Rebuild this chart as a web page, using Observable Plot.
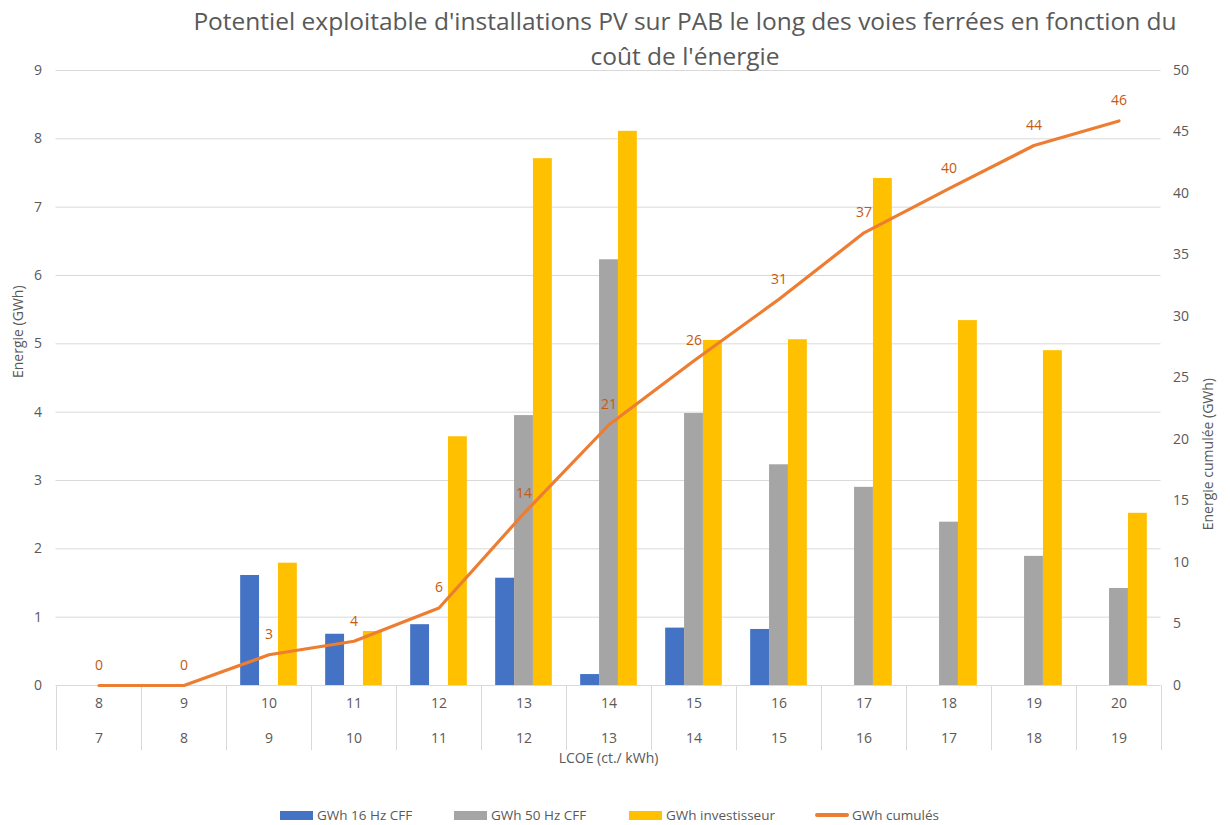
<!DOCTYPE html>
<html>
<head>
<meta charset="utf-8">
<script src="https://cdn.jsdelivr.net/npm/d3@7"></script>
<script src="https://cdn.jsdelivr.net/npm/@observablehq/plot@0.6"></script>
<style>
  html, body { margin: 0; padding: 0; background: #fff; }
  #wrap { position: relative; width: 1230px; height: 825px; overflow: hidden; font-family: "Open Sans", sans-serif; }
  #title { position: absolute; left: 140px; width: 1090px; top: 3px; text-align: center; font-size: 24.5px; line-height: 35px; color: #595959; }
  #chart { position: absolute; left: 0; top: 0; }
  .leg { position: absolute; top: 806px; display: flex; align-items: center; font-size: 13.5px; color: #595959; white-space: nowrap; }
  .sw { width: 33px; height: 9px; margin-right: 4px; }
  .ln { width: 34px; height: 4px; border-radius: 2px; margin-right: 3px; }
</style>
</head>
<body>
<div id="wrap">
  <div id="chart"></div>
  <div id="title">Potentiel exploitable d'installations PV sur PAB le long des voies ferrées en fonction du<br>coût de l'énergie</div>
  <div class="leg" style="left:280px"><div class="sw" style="background:#4472C4"></div>GWh 16 Hz CFF</div>
  <div class="leg" style="left:454px"><div class="sw" style="background:#A5A5A5"></div>GWh 50 Hz CFF</div>
  <div class="leg" style="left:629px"><div class="sw" style="background:#FFC000"></div>GWh investisseur</div>
  <div class="leg" style="left:815px"><div class="ln" style="background:#ED7D31"></div>GWh cumulés</div>
</div>
<script>
// ---- data ----
const categories = ["8","9","10","11","12","13","14","15","16","17","18","19","20"];
const lowerLabels = ["7","8","9","10","11","12","13","14","15","16","17","18","19"];
const gwh16 = [0, 0, 1.61, 0.75, 0.89, 1.57, 0.16, 0.84, 0.82, 0, 0, 0, 0];
const gwh50 = [0, 0, 0, 0, 0, 3.95, 6.23, 3.98, 3.23, 2.90, 2.39, 1.89, 1.42];
const gwhInv = [0, 0, 1.79, 0.79, 3.64, 7.71, 8.11, 5.05, 5.06, 7.42, 5.34, 4.90, 2.52];
const gwhCum = [0, 0, 2.5, 3.6, 6.3, 14.0, 21.2, 26.4, 31.4, 36.8, 40.4, 43.9, 45.9];
const leftTicks = [0,1,2,3,4,5,6,7,8,9];
const rightTicks = [0,5,10,15,20,25,30,35,40,45,50];
const leftMax = 9, rightMax = 50;

// ---- layout ----
const W = 1230, H = 825;
const mL = 55.5, mR = 69.5, mT = 70, mB = 140;
const bw = (W - mL - mR) / categories.length;   // band width
const barW = bw / 4.5;                           // Excel gap width 150%
const inset = (bw - barW) / 2;
const k = leftMax / rightMax;                    // secondary axis mapping

const rows = categories.map((c, i) => ({c, lower: lowerLabels[i], a: gwh16[i], b: gwh50[i], v: gwhInv[i], cum: gwhCum[i]}));
const tc = "#595959";
const fs = 14;

const plot = Plot.plot({
  width: W, height: H,
  marginLeft: mL, marginRight: mR, marginTop: mT, marginBottom: mB,
  style: {fontFamily: "'Open Sans', sans-serif", fontSize: fs + "px", color: tc, background: "transparent"},
  x: {type: "band", domain: categories, padding: 0, axis: null},
  y: {domain: [0, leftMax], axis: null},
  marks: [
    Plot.gridY(leftTicks, {stroke: "#d9d9d9", strokeOpacity: 1, strokeWidth: 1}),
    // category separators under axis
    Plot.ruleX(categories, {x: d => d, dx: -bw / 2, insetTop: H - mT - mB, insetBottom: -65, stroke: "#d9d9d9"}),
    Plot.ruleX(categories.slice(-1), {x: d => d, dx: bw / 2, insetTop: H - mT - mB, insetBottom: -65, stroke: "#d9d9d9"}),
    Plot.barY(rows.filter(d => d.a > 0), {x: "c", y: "a", fill: "#4472C4", insetLeft: inset, insetRight: inset, dx: -barW}),
    Plot.barY(rows.filter(d => d.b > 0), {x: "c", y: "b", fill: "#A5A5A5", insetLeft: inset, insetRight: inset}),
    Plot.barY(rows.filter(d => d.v > 0), {x: "c", y: "v", fill: "#FFC000", insetLeft: inset, insetRight: inset, dx: barW}),
    Plot.line(rows, {x: "c", y: d => d.cum * k, stroke: "#ED7D31", strokeWidth: 3.2, strokeLinejoin: "round", strokeLinecap: "round"}),
    Plot.text(rows, {x: "c", y: d => d.cum * k, text: d => String(Math.round(d.cum)), dy: -20, fill: "#C55A11", fontSize: fs}),
    // left axis
    Plot.axisY(leftTicks, {anchor: "left", tickSize: 0, tickPadding: 14, label: null, tickFormat: d => String(d), fill: tc, fontSize: fs}),
    // right axis (secondary)
    Plot.axisY(rightTicks.map(v => v * k), {anchor: "right", tickSize: 0, tickPadding: 12, label: null, tickFormat: d => String(Math.round(d / k)), fill: tc, fontSize: fs}),
    // x axis two-level labels
    Plot.axisX({tickSize: 0, tickPadding: 13, label: null, fill: tc, fontSize: fs}),
    Plot.axisX({tickSize: 0, tickPadding: 48, label: null, fill: tc, fontSize: fs, tickFormat: d => lowerLabels[categories.indexOf(d)]}),
    // axis titles
    Plot.text(["LCOE (ct./ kWh)"], {frameAnchor: "bottom", dy: 77, fill: tc, fontSize: fs}),
    Plot.text(["Energie (GWh)"], {frameAnchor: "left", dx: -37, rotate: -90, fill: tc, fontSize: fs}),
    Plot.text(["Energie cumulée (GWh)"], {frameAnchor: "right", dx: 48, rotate: -90, fill: tc, fontSize: fs})
  ]
});
document.getElementById("chart").appendChild(plot);
</script>
</body>
</html>
